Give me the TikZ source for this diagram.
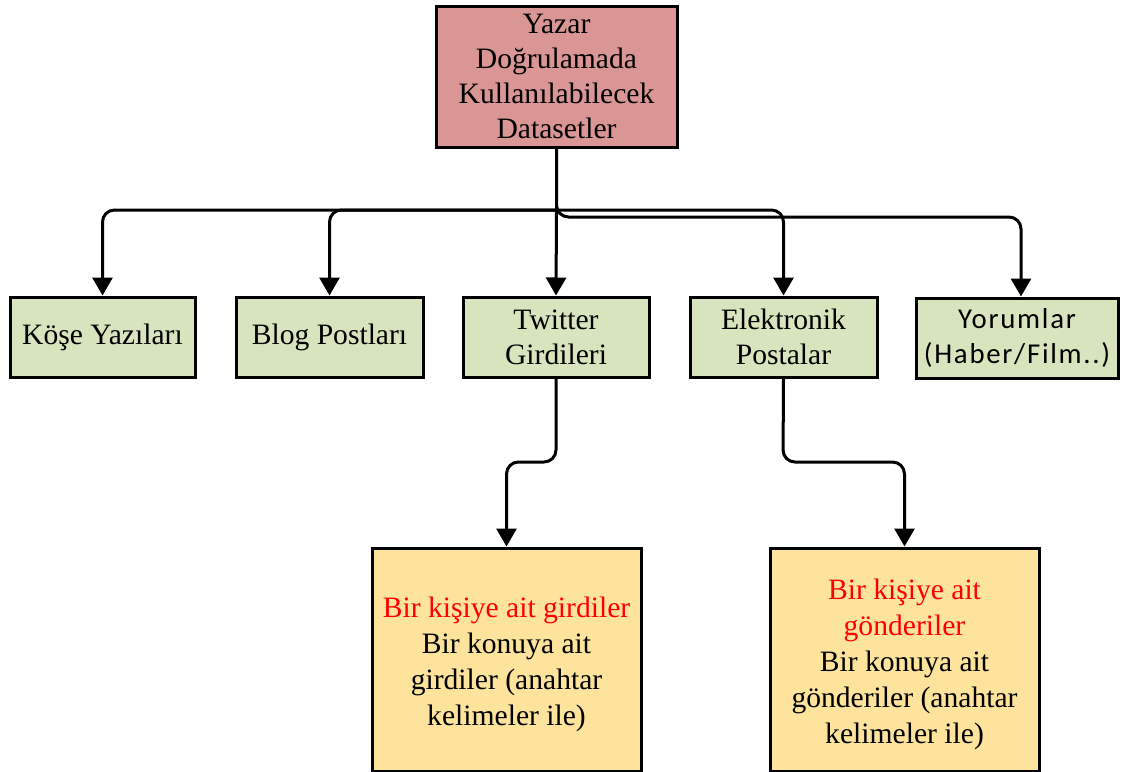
\documentclass[tikz,border=0pt]{standalone}
\usepackage{fontspec}
\setmainfont{Liberation Serif}
\newfontfamily\calibrifont[LetterSpace=6]{Carlito}
\usetikzlibrary{arrows.meta}
\definecolor{rootfill}{HTML}{D99694}
\definecolor{leaffill}{HTML}{D7E4BD}
\definecolor{notefill}{HTML}{FDE39C}
\newcommand{\notestrut}{\rule{0pt}{15pt}}
\tikzset{
  box/.style={draw=black, line width=1.5pt, align=center, inner sep=1pt,
    font=\fontsize{14.8}{17.5}\selectfont},
  rootbox/.style={box, fill=rootfill, minimum width=120.5pt, minimum height=70.5pt},
  leafbox/.style={box, fill=leaffill, minimum height=40pt},
  notebox/.style={box, fill=notefill, minimum width=134.5pt, minimum height=111.5pt,
    font=\fontsize{14.8}{18}\selectfont},
  conn/.style={draw=black, line width=1.5pt, rounded corners=6pt,
    -{Triangle[width=10pt,length=9pt]}},
  stub/.style={draw=black, line width=1.5pt}
}
\begin{document}
\begin{tikzpicture}[x=0.5pt, y=-0.5pt]
  \useasboundingbox (0,0) rectangle (1124,771);

  % root
  \node[rootbox] (root) at (556.5,76.5)
    {Yazar\\Doğrulamada\\Kullanılabilecek\\Datasetler};

  % second level
  \node[leafbox, minimum width=92.5pt] (kose) at (102.5,337) {Köşe Yazıları};
  \node[leafbox, minimum width=93.5pt] (blog) at (329.5,337) {Blog Postları};
  \node[leafbox, minimum width=93pt] (tw) at (556,337) {Twitter\\Girdileri};
  \node[leafbox, minimum width=93.5pt] (mail) at (783.5,337) {Elektronik\\Postalar};
  \node[leafbox, minimum width=101pt, font=\calibrifont\fontsize{14.4}{17.5}\selectfont]
    (yor) at (1017,338) {Yorumlar\\(Haber/Film..)};

  % third level
  \node[notebox] (twnote) at (506.5,659.5)
    {\notestrut\textcolor{red}{Bir kişiye ait girdiler}\\Bir konuya ait\\girdiler (anahtar\\kelimeler ile)};
  \node[notebox] (mailnote) at (904.5,659.5)
    {\notestrut\textcolor{red}{Bir kişiye ait}\\\textcolor{red}{gönderiler}\\Bir konuya ait\\gönderiler (anahtar\\kelimeler ile)};

  % branching points
  \coordinate (hA) at (556.5,210);
  \coordinate (hB) at (556.5,217);
  \coordinate (tB) at (556,462);
  \coordinate (mB) at (783,462);

  % connectors from the root
  \draw[stub] (root.south) -- (hA);
  \draw[conn] (hA) -| (kose.north);
  \draw[conn] (hA) -| (blog.north);
  \draw[conn] (hA) -- (tw.north);
  \draw[conn] (hA) -| (mail.north);
  \draw[conn] (root.south) -- (hB) -| ([xshift=2pt]yor.north);

  % connectors to the notes
  \draw[conn] (tw.south) -- (tB) -| (twnote.north);
  \draw[conn] (mail.south) -- (mB) -| (mailnote.north);
\end{tikzpicture}
\end{document}
